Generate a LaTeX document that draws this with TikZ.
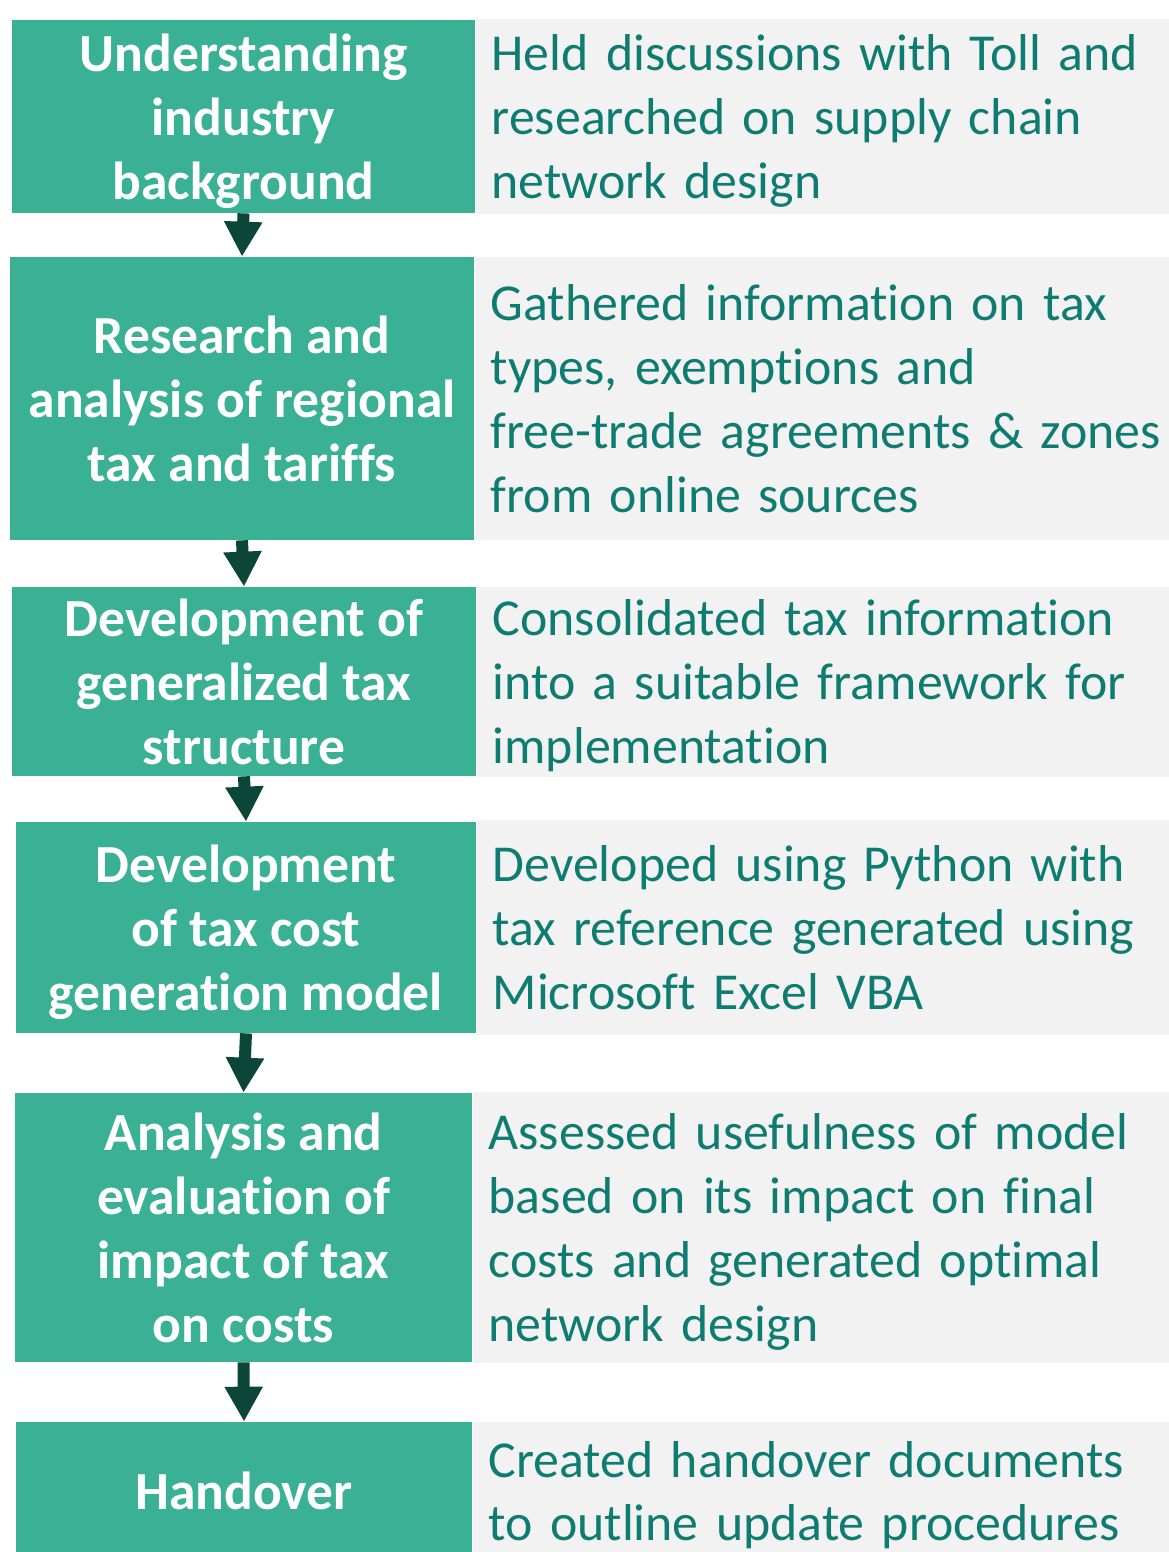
\documentclass[tikz,border=0pt]{standalone}
\usepackage{fontspec}
\setmainfont{Carlito}[Ligatures=NoCommon]
\usepackage{tikz}
\usetikzlibrary{arrows.meta,positioning}

\newlength\px
\setlength\px{0.02cm}

\definecolor{stepgreen}{HTML}{3AB094}
\definecolor{notegrey}{HTML}{F2F2F2}
\definecolor{noteteal}{HTML}{0F7C72}
\definecolor{arrowdark}{HTML}{0B4639}

\tikzset{
  stepbox/.style={fill=stepgreen, text=white, inner sep=0pt, align=center,
    text depth=0pt, font=\fontsize{30.5}{36.4}\selectfont\bfseries},
  % last line's descenders should not lift the text
  notebox/.style={fill=notegrey, text=noteteal, inner xsep=16\px, inner ysep=0pt,
    minimum width=720\px, text width=688\px, align=left,
    execute at end node={\par\kern-\prevdepth},
    font=\fontsize{29.5}{36.4}\selectfont},
  flow/.style={-{Triangle[width=0.72cm,length=0.7cm]}, line width=0.24cm, arrowdark}
}

\begin{document}
\begin{tikzpicture}[x=0.02cm,y=-0.02cm]
        \clip (0,0) rectangle (1169,1552);
        \fill[white] (0,0) rectangle (1169,1552);
        % steps on the left
        \node[stepbox, minimum width=463\px, minimum height=193\px] (s1) at (243.5,116.5)
            {Understanding\\industry\\background};
        \node[stepbox, minimum width=464\px, minimum height=283\px] (s2) at (242,398.5)
            {Research and\\analysis of regional\\tax and tariffs};
        \node[stepbox, minimum width=464\px, minimum height=189\px] (s3) at (244,681.5)
            {Development of\\generalized tax\\structure};
        \node[stepbox, minimum width=460\px, minimum height=211\px] (s4) at (246,927.5)
            {Development\\of tax cost\\generation model};
        \node[stepbox, minimum width=457\px, minimum height=269\px] (s5) at (243.5,1227.5)
            {Analysis and\\evaluation of\\impact of tax\\on costs};
        \node[stepbox, minimum width=456\px, minimum height=138\px] (s6) at (244,1491)
            {Handover};
        % notes on the right
        \node[notebox, right=0pt of s1, minimum height=195\px] (n1)
            {Held discussions with Toll and\\researched on supply chain\\network design};
        \node[notebox, right=0pt of s2, minimum height=283\px] (n2)
            {Gathered information on tax\\types, exemptions and\\free-trade agreements \& zones\\from online sources};
        \node[notebox, right=0pt of s3, minimum height=190\px] (n3)
            {Consolidated tax information\\into a suitable framework for\\implementation};
        \node[notebox, right=0pt of s4, minimum height=215\px] (n4)
            {Developed using Python with\\tax reference generated using\\Microsoft Excel VBA};
        \node[notebox, right=0pt of s5, minimum height=271\px] (n5)
            {Assessed usefulness of model\\based on its impact on final\\costs and generated optimal\\network design};
        \node[notebox, right=0pt of s6, minimum height=138\px] (n6)
            {Created handover documents\\to outline update procedures};
        % arrows between steps
        \foreach \a/\b in {s1/s2,s2/s3,s3/s4,s4/s5,s5/s6}
            \draw[flow] (\a.south) -- (\b.north);
\end{tikzpicture}
\end{document}
